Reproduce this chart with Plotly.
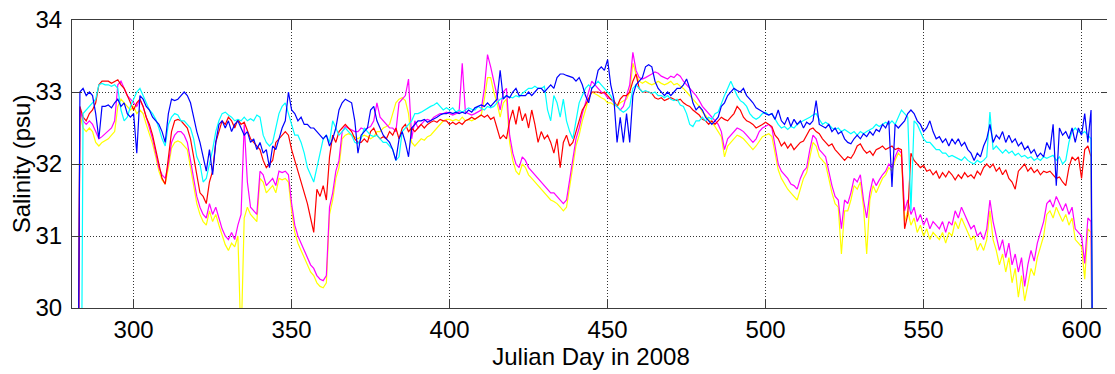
import plotly.graph_objects as go

days = list(range(282, 605))

blue = [
    25, 33.0, 33.05, 32.95, 33.0, 32.95, 32.7, 32.35, 32.8, 32.8,
    32.82, 32.78, 32.85, 32.9, 32.8, 32.85, 32.7, 32.65, 32.7, 32.15,
    32.95, 32.9, 32.8, 32.75, 32.65, 32.6, 32.55, 32.45, 32.3, 32.7,
    32.9, 32.88, 32.9, 32.95, 33.0, 32.95, 32.85, 32.65, 32.45, 32.3,
    32.1, 31.9, 32.2, 31.85, 32.3, 32.55, 32.6, 32.5, 32.6, 32.45,
    32.55, 32.6, 32.5, 32.4, 32.45, 32.3, 32.35, 32.2, 32.3, 32.15,
    32.2, 31.95, 32.25, 32.2, 32.35, 32.5, 32.6, 33.0, 32.75, 32.7,
    32.6, 32.65, 32.55, 32.55, 32.5, 32.5, 32.45, 32.4, 32.35, 32.4,
    32.25, 32.35, 32.5, 32.75, 32.85, 32.9, 32.88, 32.85, 32.6, 32.15,
    32.4, 32.45, 32.5, 32.75, 32.8, 32.6, 32.5, 32.4, 32.35, 32.3,
    32.2, 32.05, 32.35, 32.45, 32.3, 32.1, 32.5, 32.55, 32.6, 32.6,
    32.62, 32.58, 32.6, 32.62, 32.65, 32.68, 32.7, 32.7, 32.72, 32.7,
    32.72, 32.7, 32.72, 32.7, 32.75, 32.72, 32.78, 32.8, 32.82, 32.8,
    32.85, 32.8, 32.85, 32.9, 33.3, 32.9, 32.95, 32.92, 33.0, 33.05,
    32.95, 32.95, 32.95, 33.0, 32.95, 33.0, 33.05, 33.05, 33.0, 33.05,
    33.1, 33.05, 33.2, 33.25, 33.25, 33.23, 33.22, 33.2, 33.15, 33.2,
    33.1, 32.95, 32.85, 33.05, 33.1, 33.3, 33.35, 33.3, 33.45, 33.1,
    32.9, 32.3, 32.65, 32.3, 32.7, 32.3, 32.95, 33.1, 33.15, 33.2,
    33.35, 33.38, 33.35, 33.15, 33.05, 33.0, 32.95, 33.0, 32.95, 33.0,
    33.05, 33.05, 33.1, 33.18, 33.05, 32.85, 32.75, 32.8, 32.75, 32.65,
    32.6, 32.55, 32.6, 32.65, 32.8, 32.85, 32.95, 33.0, 33.05, 33.02,
    33.0, 33.05, 32.95, 32.9, 32.85, 32.78, 32.75, 32.72, 32.7, 32.68,
    32.7, 32.62, 32.75, 32.6, 32.55, 32.65, 32.52, 32.62, 32.55, 32.6,
    32.5, 32.58, 32.55, 32.6, 32.88, 32.55, 32.52, 32.5, 32.55, 32.45,
    32.5, 32.42, 32.45, 32.35, 32.3, 32.28, 32.35, 32.4, 32.35, 32.42,
    32.38, 32.45, 32.4, 32.48, 32.45, 32.55, 32.5, 32.6, 31.68, 32.55,
    32.5, 32.55, 32.6, 32.7, 32.75, 32.7, 32.6, 32.55, 32.45, 32.5,
    32.6, 32.45, 32.35, 32.38, 32.3, 32.35, 32.25, 32.35, 32.28, 32.35,
    32.25, 32.3, 32.2, 32.15, 32.05, 32.15, 32.1, 32.25, 32.35, 32.55,
    32.3, 32.4, 32.35, 32.45, 32.3, 32.4, 32.3, 32.35, 32.25, 32.3,
    32.2, 32.25, 32.15, 32.2, 32.1, 32.15, 32.1, 32.3, 32.2, 32.55,
    31.7, 32.5, 32.4, 32.45, 32.35, 32.5, 32.3, 32.5, 32.4, 32.7,
    32.3, 32.75, 25,
]

cyan = [
    25, 25, 32.7, 32.75, 32.8, 32.85, 32.9, 33.1, 33.12, 33.1,
    33.1, 33.08, 33.1, 33.05, 32.75, 32.6, 32.65, 32.8, 32.9, 33.0,
    33.05, 32.95, 32.85, 32.75, 32.7, 32.62, 32.5, 32.35, 32.25, 32.55,
    32.65, 32.7, 32.68, 32.6, 32.6, 32.55, 32.5, 32.35, 32.1, 32.0,
    31.75, 31.8, 32.0, 32.2, 32.45, 32.6, 32.7, 32.72, 32.68, 32.65,
    32.6, 32.62, 32.6, 32.65, 32.6, 32.63, 32.6, 32.68, 32.65, 32.4,
    32.3, 32.25, 32.3, 32.5, 32.7, 32.8, 32.85, 32.7, 32.55, 32.4,
    32.4, 32.3, 32.15, 31.95, 31.85, 31.75, 31.95, 32.15, 32.35, 32.4,
    32.3, 32.6, 32.5, 32.4, 32.45, 32.5, 32.45, 32.4, 32.3, 32.28,
    32.35, 32.5, 32.45, 32.4, 32.38, 32.4, 32.35, 32.3, 32.3, 32.25,
    32.2, 32.05, 32.1, 32.45, 32.5, 32.55, 32.6, 32.7, 32.7, 32.72,
    32.75, 32.78, 32.8, 32.82, 32.85, 32.8, 32.75, 32.78, 32.75, 32.78,
    32.72, 32.75, 32.72, 32.75, 32.78, 32.76, 32.75, 32.8, 32.78, 32.75,
    32.8, 32.78, 32.8, 32.85, 32.9, 32.92, 32.95, 32.93, 32.92, 32.95,
    32.93, 32.98, 33.02, 33.05, 33.05, 33.08, 33.05, 33.05, 33.08, 32.75,
    32.6, 32.95, 32.85, 32.65, 32.9, 32.6, 32.45, 32.35, 32.6, 32.85,
    32.95, 33.05, 33.1, 33.05, 33.1, 33.15, 33.1, 33.05, 33.0, 32.95,
    32.85, 32.8, 32.75, 32.72, 32.75, 32.8, 33.05, 33.1, 33.05, 33.0,
    33.02, 33.0, 32.98, 33.0, 32.95, 32.95, 32.92, 32.95, 32.9, 32.88,
    32.9, 32.82, 32.8, 32.7, 32.55, 32.52, 32.6, 32.6, 32.65, 32.6,
    32.65, 32.62, 32.7, 32.72, 32.85, 32.95, 33.05, 33.15, 33.05, 32.95,
    32.88, 32.85, 32.8, 32.7, 32.65, 32.62, 32.65, 32.7, 32.72, 32.68,
    32.7, 32.62, 32.55, 32.5, 32.52, 32.48, 32.52, 32.5, 32.55, 32.58,
    32.6, 32.62, 32.65, 32.68, 32.7, 32.62, 32.55, 32.58, 32.55, 32.5,
    32.48, 32.5, 32.45, 32.48, 32.45, 32.42, 32.45, 32.4, 32.45, 32.42,
    32.45, 32.48, 32.5, 32.55, 32.52, 32.55, 32.58, 32.55, 32.6, 32.55,
    32.65, 32.75, 32.7, 32.65, 31.35, 32.6, 32.55, 32.45, 32.35, 32.3,
    32.3, 32.25, 32.2, 32.2, 32.15, 32.15, 32.1, 32.12, 32.1, 32.08,
    32.05, 32.1, 32.05, 32.02, 32.0, 32.05, 32.02, 32.05, 32.1, 32.72,
    32.2, 32.25, 32.2, 32.15, 32.2, 32.15, 32.18, 32.12, 32.15, 32.1,
    32.12, 32.08, 32.1, 32.05, 32.08, 32.05, 32.1, 32.08, 32.1, 32.12,
    32.05, 32.1, 32.0, 32.05, 32.3, 32.45, 32.5, 32.45, 32.42, 32.45,
    32.4, 32.35, 25,
]

red = [
    25, 32.8, 32.65, 32.6, 32.7, 32.75, 32.85, 33.1, 33.15, 33.15,
    33.15, 33.12, 33.15, 33.17, 33.1, 33.05, 32.95, 32.85, 32.75, 32.85,
    32.9, 32.8, 32.65, 32.55, 32.4, 32.2, 32.0, 31.8, 31.72, 32.1,
    32.45, 32.6, 32.62, 32.6, 32.55, 32.5, 32.35, 32.1, 31.85, 31.6,
    31.55, 31.45, 31.75, 31.9, 32.3, 32.45, 32.6, 32.55, 32.65, 32.6,
    32.5, 32.62, 32.55, 32.58, 32.45, 32.35, 32.3, 32.25, 32.2, 32.05,
    31.95, 32.0, 32.05, 32.3, 32.35, 32.4, 32.45, 32.4, 32.2, 32.05,
    31.9, 31.75, 31.6, 31.45, 31.25, 31.05, 31.65, 31.55, 31.7, 31.5,
    32.1, 32.4, 32.3, 32.45, 32.5, 32.55, 32.5, 32.45, 32.35, 32.3,
    32.3, 32.35, 32.3, 32.45, 32.5, 32.4, 32.35, 32.38, 32.35, 32.45,
    32.4, 32.5, 32.35, 32.5, 32.55, 32.45, 32.5, 32.45, 32.5, 32.55,
    32.5, 32.55, 32.58, 32.6, 32.58, 32.62, 32.6, 32.6, 32.55, 32.58,
    32.55, 32.58, 32.55, 32.6, 32.62, 32.65, 32.62, 32.65, 32.68, 32.65,
    32.68, 32.62, 32.65, 32.5, 32.35, 32.4, 32.35, 32.6, 32.75, 32.55,
    32.8, 32.6, 32.7, 32.5, 32.75, 32.55, 32.3, 32.45, 32.35, 32.4,
    32.3, 32.15, 32.35, 31.95, 32.3, 32.4, 32.25, 32.3, 32.45, 32.6,
    32.75, 32.82, 32.9, 33.0, 33.0, 33.0, 32.98, 33.0, 32.95, 32.9,
    32.88, 32.8, 32.9, 32.95, 32.95, 33.0, 33.15, 33.25, 33.05, 33.0,
    33.0, 33.0, 32.98, 32.92, 32.9, 32.92, 32.88, 32.9, 32.92, 32.9,
    32.88, 32.9, 32.85, 32.82, 32.8, 32.75, 32.72, 32.68, 32.62, 32.6,
    32.55, 32.6, 32.55, 32.6, 32.65, 32.62, 32.6, 32.65, 32.7, 32.8,
    32.75, 32.65, 32.6, 32.58, 32.55, 32.5, 32.52, 32.55, 32.58, 32.55,
    32.52, 32.4, 32.35, 32.25, 32.3, 32.22, 32.28, 32.2, 32.25, 32.3,
    32.32, 32.4, 32.48, 32.5, 32.45, 32.42, 32.35, 32.3, 32.25, 32.28,
    32.2, 32.15, 32.1, 32.05, 32.1, 32.08, 32.15, 32.25, 32.28, 32.2,
    32.15, 32.18, 32.12, 32.2, 32.22, 32.25, 32.2, 32.22, 32.25, 32.2,
    32.22, 32.2, 31.1, 31.3, 32.15, 32.05, 32.0, 31.95, 31.98, 31.9,
    31.92, 31.85, 31.9, 31.8, 31.88, 31.82, 31.9, 31.85, 31.78, 31.85,
    31.8, 31.88, 31.82, 31.85, 31.8, 31.9, 31.85, 31.95, 32.0, 31.95,
    32.0, 31.9, 31.95, 31.85, 31.92, 31.8, 31.75, 31.65, 31.9, 31.95,
    32.0, 31.9, 31.95, 31.88, 31.92, 31.85, 31.9, 31.88, 31.9, 31.85,
    31.8, 31.82, 31.75, 31.7, 31.95, 32.1, 32.05, 32.1, 31.8, 32.2,
    32.25, 32.1, 25,
]

magenta = [
    25, 32.75, 32.6, 32.55, 32.6, 32.55, 32.45, 32.35, 32.38, 32.42,
    32.45, 32.5, 32.6, 33.1, 33.15, 33.05, 32.95, 32.9, 32.85, 32.8,
    32.9, 32.8, 32.65, 32.5, 32.35, 32.15, 31.95, 31.85, 31.8, 32.0,
    32.3, 32.4, 32.45, 32.45, 32.4, 32.3, 32.05, 31.8, 31.55, 31.4,
    31.3, 31.25, 31.45, 31.3, 31.4, 31.25, 31.1, 31.0, 30.95, 31.05,
    30.95, 31.15, 31.3, 32.55, 31.75, 31.4, 31.35, 31.3, 31.9, 31.85,
    31.7, 31.75, 31.8, 31.7, 31.9, 31.88, 31.9, 31.85, 31.45, 31.15,
    31.0, 30.9, 30.8, 30.7, 30.6, 30.55, 30.45, 30.4, 30.38, 30.45,
    31.4, 31.6, 31.9, 32.05, 32.45, 32.52, 32.5, 32.48, 32.45, 32.45,
    32.5, 32.48, 32.5, 32.52, 32.6, 32.85, 32.65, 32.6, 32.55, 32.5,
    32.5, 32.45, 32.85, 32.9, 32.95, 33.18, 32.35, 32.6, 32.5, 32.55,
    32.6, 32.62, 32.6, 32.65, 32.68, 32.7, 32.7, 32.72, 32.7, 32.68,
    32.7, 32.72, 33.4, 32.72, 32.7, 32.68, 32.7, 32.72, 32.75, 33.05,
    33.52, 33.35, 33.15, 32.95, 32.75, 33.0, 33.05, 32.4, 32.15, 32.0,
    31.95, 32.1, 32.05, 31.95, 31.9, 31.85, 31.8, 31.75, 31.7, 31.65,
    31.6, 31.6, 31.55, 31.5, 31.45, 31.5, 31.8, 32.1, 32.35, 32.5,
    32.7, 32.85, 33.0, 33.15, 33.1, 33.05, 33.0, 32.98, 32.92, 32.9,
    32.85, 32.8, 32.75, 32.8, 32.95, 33.1, 33.55, 33.3, 33.2, 33.18,
    33.2, 33.22, 33.25, 33.28, 33.26, 33.22, 33.2, 33.18, 33.22, 33.2,
    33.25, 33.22, 33.15, 33.1, 33.05, 33.0, 32.95, 32.88, 32.8, 32.75,
    32.7, 32.65, 32.6, 32.55, 32.45, 32.2, 32.35, 32.4, 32.45, 32.5,
    32.48, 32.45, 32.4, 32.35, 32.3, 32.35, 32.45, 32.5, 32.52, 32.55,
    32.5, 32.25, 32.0, 31.9, 31.85, 31.8, 31.72, 31.7, 31.65, 31.8,
    31.9, 31.95, 32.2, 32.4, 32.35, 32.2, 32.15, 32.1, 31.9, 31.7,
    31.55, 31.5, 31.1, 31.5, 31.45, 31.6, 31.8, 31.75, 31.85, 31.5,
    31.25, 31.6, 31.8, 31.7, 31.78, 31.85, 31.9, 32.0, 31.95, 32.1,
    32.2, 32.15, 31.35, 31.5, 31.3, 31.4, 31.2, 31.3, 31.15, 31.25,
    31.1, 31.2, 31.15, 31.1, 31.2, 31.05, 31.2, 31.15, 31.35, 31.25,
    31.4, 31.3, 31.2, 31.1, 31.15, 31.0, 31.05, 30.95, 31.1, 31.5,
    31.2, 31.0, 30.8, 30.95, 30.7, 30.9, 30.6, 30.75, 30.5, 30.7,
    30.3, 30.6, 30.8, 30.65, 30.9, 31.05, 31.2, 31.45, 31.5, 31.4,
    31.55, 31.45, 31.35, 31.45, 31.3, 31.4, 31.1, 31.05, 31.0, 30.62,
    31.25, 31.2, 25,
]

yellow = [
    25, 32.7, 32.5, 32.45, 32.5, 32.45, 32.3, 32.25, 32.3, 32.32,
    32.35, 32.4, 32.45, 32.8, 32.9, 32.85, 32.8, 32.75, 32.8, 32.7,
    32.75, 32.7, 32.55, 32.42, 32.28, 32.1, 31.9, 31.78, 31.72, 31.95,
    32.22, 32.3, 32.32, 32.3, 32.25, 32.2, 31.95, 31.7, 31.45, 31.3,
    31.2, 31.15, 31.35, 31.2, 31.3, 31.15, 31.0, 30.88, 30.8, 30.9,
    30.85, 31.0, 29.5, 31.25, 31.4, 31.3, 31.25, 31.2, 31.8, 31.75,
    31.6, 31.65, 31.7, 31.6, 31.8, 31.78, 31.8, 31.75, 31.35, 31.05,
    30.9, 30.8, 30.7, 30.6, 30.5, 30.45, 30.35, 30.3, 30.28, 30.35,
    31.3, 31.5, 31.8, 31.95, 32.35, 32.4, 32.42, 32.4, 32.38, 32.35,
    32.38, 32.4, 32.38, 32.35, 32.38, 32.45, 32.45, 32.5, 32.52, 32.55,
    32.7, 32.85, 32.9, 32.92, 32.88, 32.7, 32.3, 32.25, 32.3, 32.35,
    32.33, 32.38, 32.4, 32.45, 32.5, 32.55, 32.6, 32.62, 32.62, 32.6,
    32.62, 32.6, 32.65, 32.6, 32.62, 32.6, 32.62, 32.65, 32.68, 32.9,
    33.2, 33.2, 33.0, 32.85, 32.65, 32.85, 32.9, 32.3, 32.05, 31.9,
    31.85, 32.0, 31.95, 31.85, 31.8, 31.75, 31.7, 31.65, 31.6, 31.55,
    31.5, 31.48, 31.45, 31.4, 31.35, 31.4, 31.7, 32.0, 32.25, 32.4,
    32.6, 32.75, 32.9, 33.0, 32.98, 32.95, 32.92, 32.9, 32.85, 32.85,
    32.82, 32.8, 32.85, 32.88, 32.9, 33.0, 33.4, 33.25, 33.15, 33.12,
    33.15, 33.12, 33.1, 33.12, 33.15, 33.12, 33.1, 33.12, 33.15, 33.1,
    33.12, 33.08, 33.05, 33.0, 32.95, 32.9, 32.85, 32.8, 32.72, 32.68,
    32.62, 32.58, 32.52, 32.45, 32.38, 32.1, 32.25, 32.3, 32.35, 32.4,
    32.38, 32.35, 32.3, 32.25, 32.2, 32.25, 32.32, 32.38, 32.4, 32.42,
    32.38, 32.15, 31.92, 31.8, 31.72, 31.65, 31.6, 31.55, 31.5, 31.65,
    31.8, 31.88, 32.1, 32.3, 32.25, 32.1, 32.05, 32.0, 31.8, 31.6,
    31.45, 31.4, 30.75, 31.35, 31.35, 31.5, 31.7, 31.65, 31.75, 31.4,
    30.75, 31.5, 31.7, 31.6, 31.7, 31.8, 31.85, 31.95, 31.9, 32.05,
    32.15, 32.1, 31.2, 31.35, 31.15, 31.25, 31.05, 31.15, 31.0, 31.1,
    30.95, 31.05, 31.0, 30.95, 31.05, 30.9, 31.05, 31.0, 31.2, 31.1,
    31.25, 31.15, 31.05, 30.95, 31.0, 30.8, 30.9, 30.8, 30.95, 31.35,
    30.95, 30.8, 30.6, 30.75, 30.5, 30.7, 30.35, 30.55, 30.15, 30.45,
    30.1, 30.35, 30.55, 30.45, 30.7, 30.85, 31.0, 31.3, 31.35, 31.25,
    31.4, 31.3, 31.2, 31.3, 31.15, 31.25, 30.95, 30.9, 30.85, 30.4,
    31.1, 31.05, 25,
]

series = [
    ("yellow", yellow, "#FFFF00"),
    ("magenta", magenta, "#FF00FF"),
    ("red", red, "#FF0000"),
    ("cyan", cyan, "#00FFFF"),
    ("blue", blue, "#0000FF"),
]

x_ticks = [300, 350, 400, 450, 500, 550, 600]
y_ticks = [30, 31, 32, 33, 34]

fig = go.Figure()
for name, vals, col in series:
    fig.add_trace(go.Scatter(x=days, y=vals, mode="lines", name=name,
                             line=dict(color=col, width=1.2), showlegend=False))

font = dict(family="Liberation Sans, Arial, sans-serif", size=24, color="black")
axis_common = dict(
    showline=True, linecolor="#3c3c3c", linewidth=1, mirror="allticks",
    ticks="inside", ticklen=9, tickcolor="#3c3c3c", tickwidth=1,
    showgrid=True, gridcolor="#333333", gridwidth=1, griddash="1px,2px",
    zeroline=False, tickfont=font, automargin=False,
    ticklabeloverflow="allow",
)
fig.update_xaxes(range=[280.5, 609], tickvals=x_ticks,
                 title=dict(text="Julian Day in 2008", font=font, standoff=2),
                 **axis_common)
fig.update_yaxes(range=[30, 34], tickvals=y_ticks, ticklabelstandoff=4,
                 title=dict(text="Salinity (psu)", font=font, standoff=4),
                 **axis_common)
# page body has an 8px margin, so the figure is offset by 8px
fig.update_layout(
    width=1107, height=366,
    margin=dict(l=64, r=5, t=12, b=66),
    paper_bgcolor="white", plot_bgcolor="white",
)
fig.write_html("out.html")
